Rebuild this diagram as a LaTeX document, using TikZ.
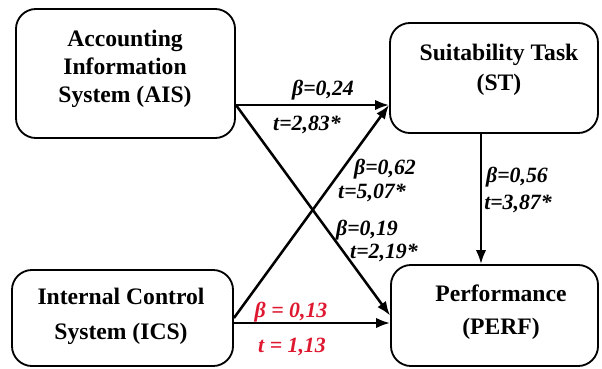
\documentclass[tikz,border=0pt]{standalone}
\usepackage{fontspec}
\setmainfont{Liberation Serif}
\usetikzlibrary{arrows.meta}

\definecolor{coefred}{RGB}{222,24,48}
\tikzset{
  box/.style={draw, rounded corners=0.5cm, line width=1.3pt, inner sep=0pt},
  boxtext/.style={font=\bfseries\fontsize{16.8}{19.9}\selectfont, align=center, inner sep=0pt},
  coef/.style={font=\bfseries\itshape\fontsize{15.5}{18}\selectfont, inner sep=0pt},
  arr/.style={-{Latex[length=10pt,width=7.5pt]}, line width=1.8pt},
}

\begin{document}
\begin{tikzpicture}[x=0.025cm,y=-0.025cm]
\useasboundingbox (0,0) rectangle (602,368);

% Boxes
\node[box, minimum width=5.475cm, minimum height=3.225cm] (ais) at (125.5,73.5) {};
\node[box, minimum width=5.2cm, minimum height=2.75cm] (st) at (494,78) {};
\node[box, minimum width=5.525cm, minimum height=2.4cm] (ics) at (122.5,318) {};
\node[box, minimum width=5.175cm, minimum height=2.525cm] (perf) at (494.5,315.5) {};

% Box texts
\node[boxtext] (aistext) at (125,69) {Accounting\\Information\\System (AIS)};
\node[boxtext] (sttext) at (499,69.5) {Suitability Task\\[1.4pt](ST)};
\node[boxtext] (icstext) at (121,316) {Internal Control\\[5pt]System (ICS)};
\node[boxtext] (perftext) at (501,312) {Performance\\[3.5pt](PERF)};

% Paths
\coordinate (stin) at ([yshift=-0.675cm]st.west);
\coordinate (icsout) at ([yshift=-0.125cm]ics.east);
\coordinate (stout) at ([xshift=-0.325cm]st.south);
\draw[arr] (ais.east |- stin) -- (stin);
\draw[arr] (ais.east |- stin) -- (perf.west);
\draw[arr] (ics.east) -- (stin);
\draw[arr] (icsout) -- (perf.west |- icsout);
\draw[arr] (stout) -- (perf.north -| stout);

% Coefficients
\node[coef] (b1) at (323,90) {β=0,24};
\node[coef] (t1) at (307,125) {t=2,83*};
\node[coef] (b2) at (385,169) {β=0,62};
\node[coef] (t2) at (372,193) {t=5,07*};
\node[coef] (b3) at (367,230) {β=0,19};
\node[coef] (t3) at (384,253) {t=2,19*};
\node[coef] (b4) at (517,177) {β=0,56};
\node[coef] (t4) at (518,204) {t=3,87*};
\node[coef, text=coefred] (b5) at (291,312) {β = 0,13};
\node[coef, text=coefred] (t5) at (292,347) {t = 1,13};

\end{tikzpicture}
\end{document}
